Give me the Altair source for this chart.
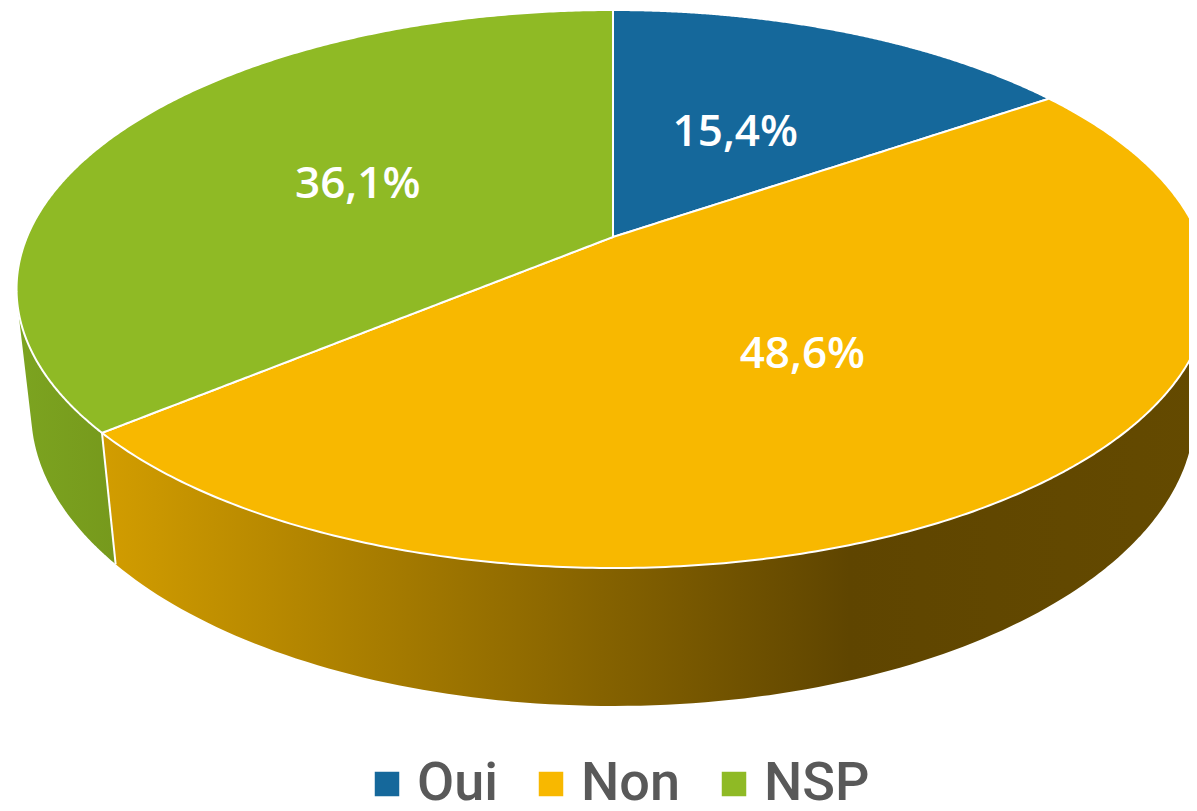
import numpy as np
import pandas as pd
import altair as alt

categories = ["Oui", "Non", "NSP"]
values = [15.4, 48.6, 36.1]
labels = ["15,4%", "48,6%", "36,1%"]
colors = ["#15689b", "#f8b800", "#8fba25"]

# perspective view of the pie, in reference pixels
CX, CY = 613.0, 237.0
E, D, K = 586.0, 269.3, 0.1864
M, P = 0.0242, 123.6
R_LABEL = [0.485, 0.495, 0.50]


def project(theta, r=1.0, deep=False):
    u, v = r * np.sin(theta), r * np.cos(theta)
    w = 1 + K * v + (M if deep else 0)
    return CX + E * u / w, CY + (-D * v + (P if deep else 0)) / w


def hull(points):
    pts = sorted(set(points))
    def half(seq):
        out = []
        for p in seq:
            while len(out) > 1 and (out[-1][0] - out[-2][0]) * (p[1] - out[-2][1]) - (out[-1][1] - out[-2][1]) * (p[0] - out[-2][0]) <= 0:
                out.pop()
            out.append(p)
        return out[:-1]
    return half(pts) + half(pts[::-1])


def envelope(points):
    h = hull(points)
    rows = []
    for x in sorted({p[0] for p in h}):
        ys = []
        for a, b in zip(h, h[1:] + h[:1]):
            lo, hi = min(a[0], b[0]), max(a[0], b[0])
            if lo <= x <= hi:
                if a[0] == b[0]:
                    ys += [a[1], b[1]]
                else:
                    ys.append(a[1] + (b[1] - a[1]) * (x - a[0]) / (b[0] - a[0]))
        rows.append({"x": x, "y": min(ys), "y2": max(ys)})
    return pd.DataFrame(rows)


total = sum(values)
edges = np.concatenate([[0], np.cumsum(values)]) / total * 2 * np.pi

xs = alt.X("x:Q", axis=None, scale=alt.Scale(domain=[8, 1189], range=[0, 1181], nice=False, zero=False))
ys = alt.Y("y:Q", axis=None, scale=alt.Scale(domain=[8, 803], range=[0, 795], nice=False, zero=False))
y2 = alt.Y2("y2:Q")
cscale = alt.Scale(domain=categories, range=colors)


def wall(t0, t1, fill):
    th = np.linspace(t0, t1, 160)
    pts = [tuple(map(float, project(t))) for t in th] + [tuple(map(float, project(t, deep=True))) for t in th]
    return alt.Chart(envelope(pts)).mark_area(fill=fill, clip=True, strokeWidth=0).encode(x=xs, y=ys, y2=y2)


green_grad = alt.Gradient(gradient="linear", x1=0, x2=1, y1=0, y2=0,
                          stops=[alt.GradientStop(offset=0, color="#7ca420"),
                                 alt.GradientStop(offset=1, color="#76991c")])
yellow_grad = alt.Gradient(gradient="linear", x1=0, x2=1, y1=0, y2=0,
                           stops=[alt.GradientStop(offset=0, color="#d29d00"),
                                  alt.GradientStop(offset=0.675, color="#5f4500"),
                                  alt.GradientStop(offset=1, color="#644a00")])

layers = [wall(edges[2], np.radians(292), green_grad),
          wall(np.radians(60), edges[2], yellow_grad)]

for i, cat in enumerate(categories):
    th = np.linspace(edges[i], edges[i + 1], 300)
    pts = [tuple(map(float, project(t))) for t in th] + [(CX, CY)]
    df = envelope(pts)
    df["cat"] = cat
    layers.append(
        alt.Chart(df).mark_area(stroke="white", strokeWidth=2, clip=True, opacity=1).encode(
            x=xs, y=ys, y2=y2,
            color=alt.Color("cat:N", scale=cscale, legend=alt.Legend(
                title=None, orient="none", direction="horizontal", legendX=352, legendY=749,
                symbolType="square", symbolSize=600, symbolStrokeWidth=0, symbolOpacity=1,
                labelFont="Roboto", labelFontSize=54, labelColor="#595959",
                labelFontWeight=500, labelOffset=3, columnPadding=26, labelLimit=300,
                padding=0, values=categories)),
        )
    )

seam_top = project(edges[2])
seam_bot = project(edges[2], deep=True)
seam = pd.DataFrame([{"x": float(seam_top[0]), "y": float(seam_top[1]),
                      "x2": float(seam_bot[0]), "y2": float(seam_bot[1])}])
layers.append(alt.Chart(seam).mark_rule(color="white", strokeWidth=2).encode(
    x=xs, y=ys, x2=alt.X2("x2:Q"), y2=y2))

mids = (edges[:-1] + edges[1:]) / 2
lab = pd.DataFrame({
    "x": [float(project(t, r)[0]) for t, r in zip(mids, R_LABEL)],
    "y": [float(project(t, r)[1]) for t, r in zip(mids, R_LABEL)],
    "t": labels,
})
layers.append(alt.Chart(lab).mark_text(
    font="Open Sans", fontSize=44, fontWeight=600, color="white", align="center", baseline="middle", dy=3
).encode(x=xs, y=ys, text="t:N"))

chart = alt.layer(*layers).properties(
    width=1181, height=795, padding=0, autosize=alt.AutoSizeParams(type="none"),
).configure_view(stroke=None)

chart.save("out.html", embed_options={"renderer": "svg", "actions": False})
